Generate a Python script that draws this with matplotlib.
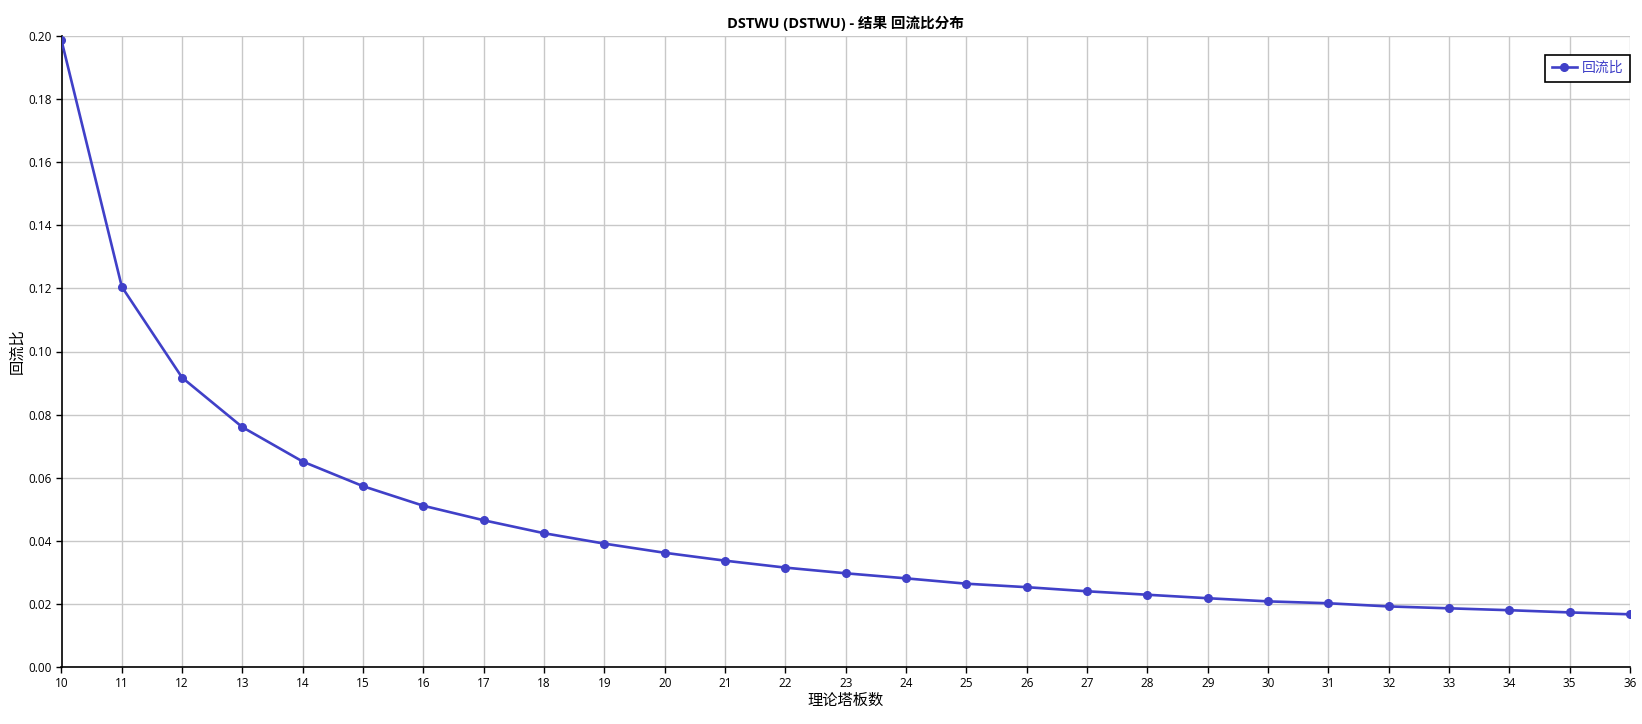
import matplotlib
matplotlib.use("Agg")
import matplotlib.pyplot as plt

plt.rcParams['font.family'] = ['Open Sans', 'Noto Sans CJK SC', 'DejaVu Sans']

stages = list(range(10, 37))
reflux = [0.1986, 0.1205, 0.0917, 0.0760, 0.0651, 0.0573, 0.0511, 0.0465, 0.0424,
          0.0391, 0.0362, 0.0337, 0.0315, 0.0297, 0.0281, 0.0264, 0.0253, 0.0240,
          0.0229, 0.0218, 0.0208, 0.0202, 0.0192, 0.0186, 0.0180, 0.0173, 0.0167]
yticks = [0.00, 0.02, 0.04, 0.06, 0.08, 0.10, 0.12, 0.14, 0.16, 0.18, 0.20]

color = '#4040C8'

fig = plt.figure(figsize=(16.42, 7.24), dpi=100)
ax = fig.add_axes([61.5/1642, 57/724, (1630-61.5)/1642, (667-36)/724])

ax.plot(stages, reflux, color=color, lw=1.9, marker='o', ms=5.5, label='回流比', zorder=3)

ax.set_xlim(10, 36)
ax.set_ylim(0, 0.20)
ax.set_xticks(stages)
ax.set_yticks(yticks)
ax.set_yticklabels([f'{v:.2f}' for v in yticks])
ax.grid(True, color='#c8c8c8', lw=1)
ax.set_axisbelow(True)
for s in ['top', 'right']:
    ax.spines[s].set_visible(False)
for s in ['left', 'bottom']:
    ax.spines[s].set_color('black')
    ax.spines[s].set_linewidth(1.2)
ax.tick_params(direction='out', length=4, width=1, labelsize=8.5, colors='black', pad=3)

ax.set_xlabel('理论塔板数', fontsize=11, labelpad=3)
ax.set_ylabel('回流比', fontsize=11, labelpad=2)
ax.set_title('DSTWU (DSTWU) - 结果 回流比分布', fontsize=10.5, fontweight='bold', pad=6)

leg = ax.legend(loc='upper right', bbox_to_anchor=(1.0, 0.97), fontsize=10, frameon=True,
                fancybox=False, edgecolor='black', framealpha=1, borderpad=0.45,
                handlelength=1.8, handletextpad=0.4, borderaxespad=0.0)
leg.get_frame().set_linewidth(1.2)
for t in leg.get_texts():
    t.set_color(color)

fig.savefig('out.png', dpi=100)
